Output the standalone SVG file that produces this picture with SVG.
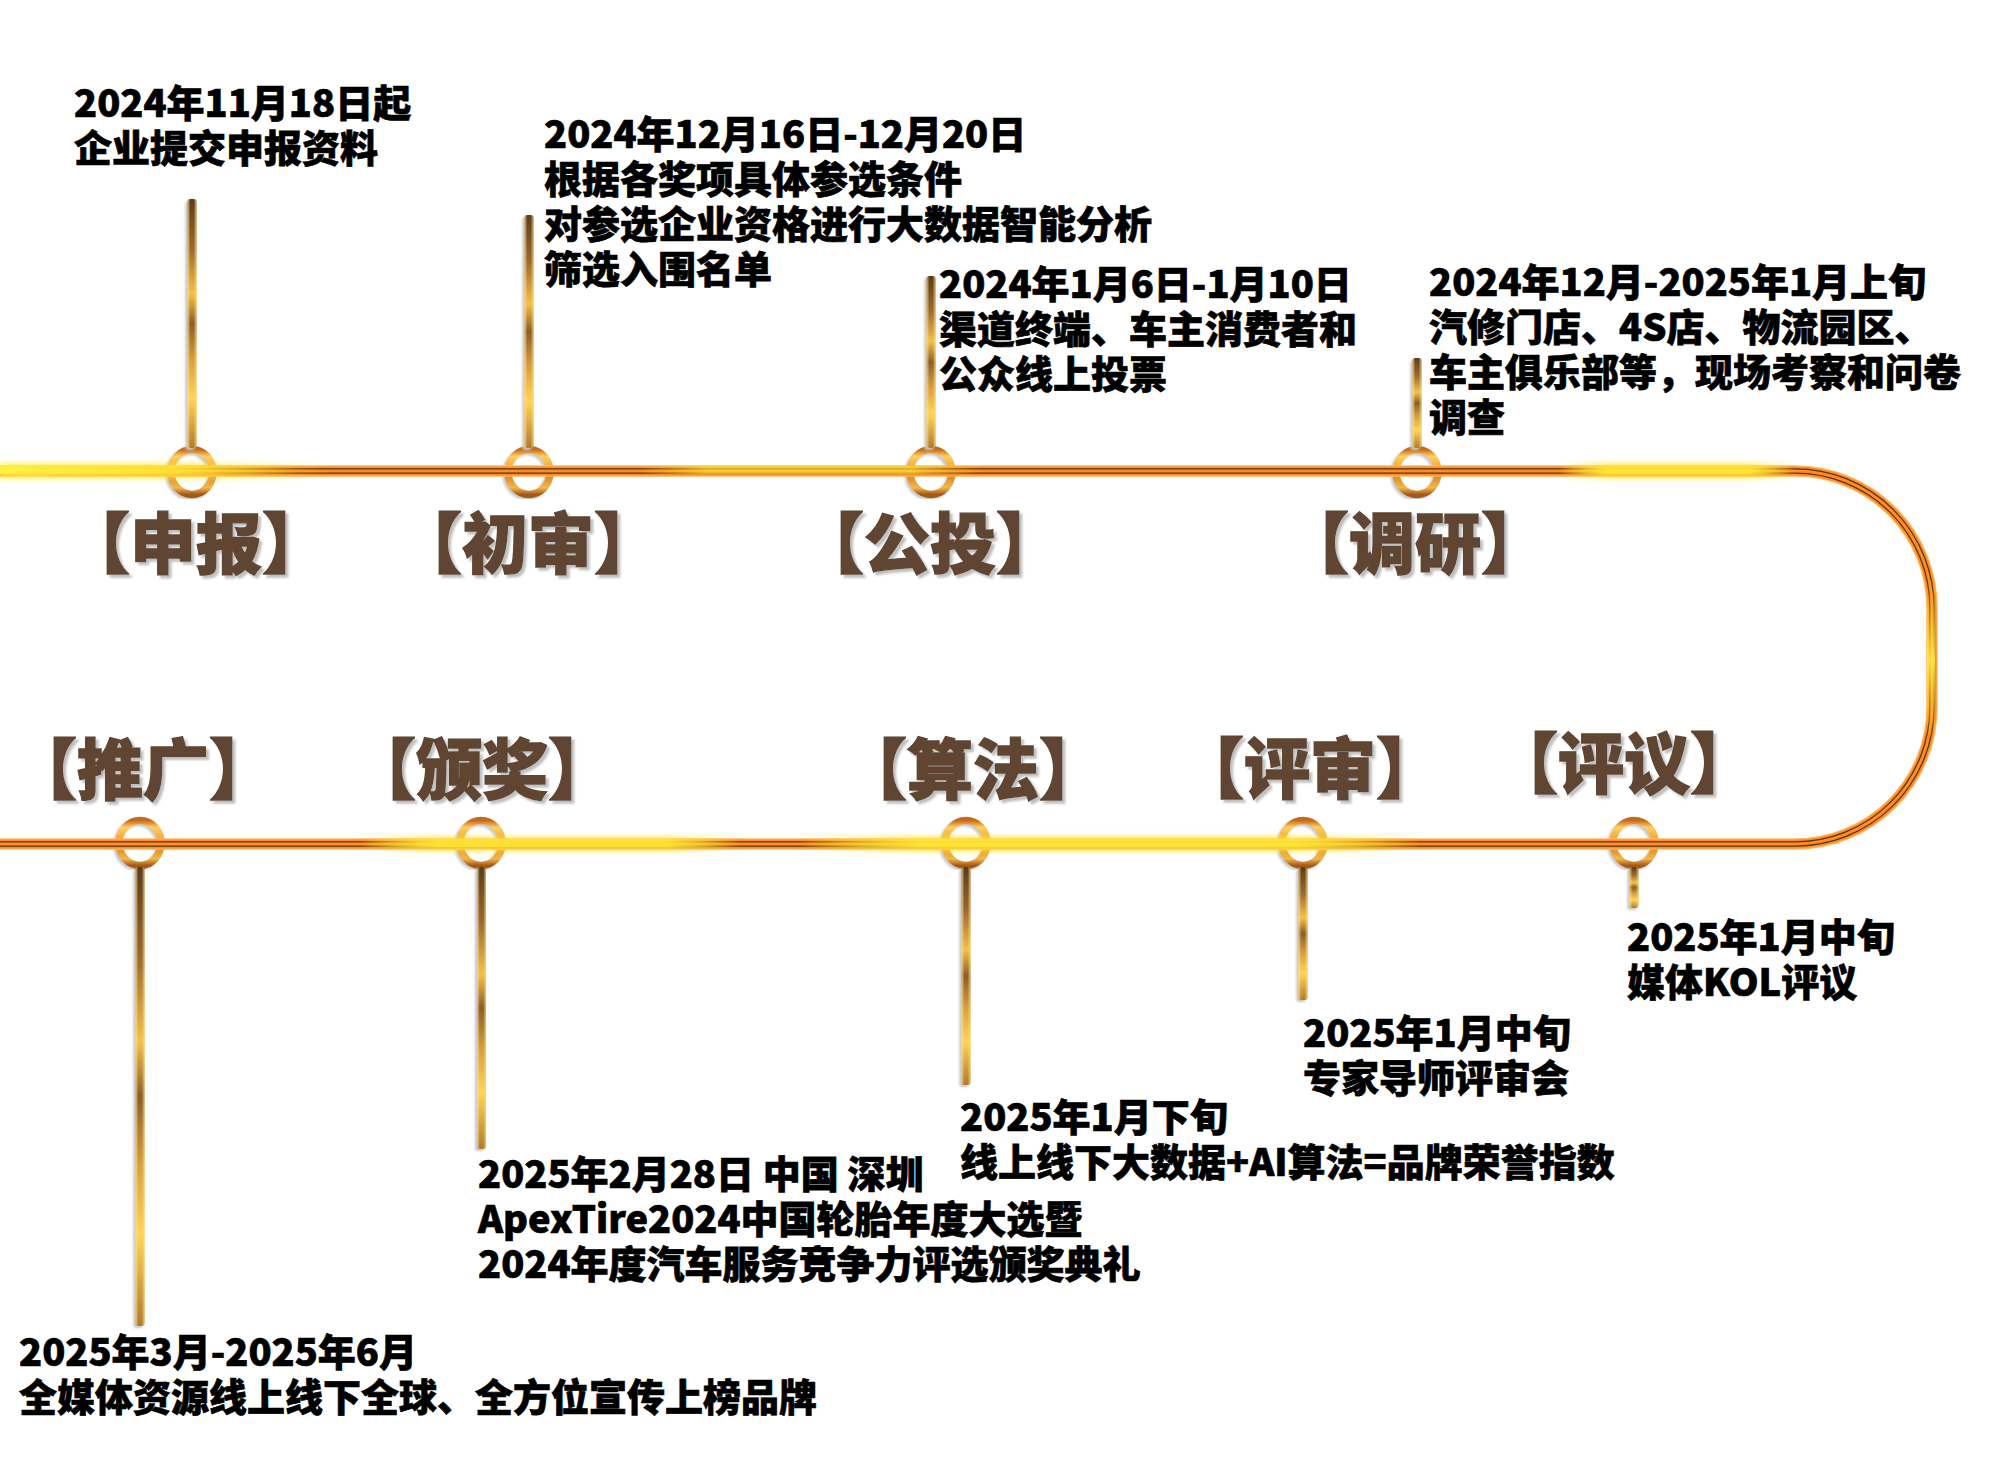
<svg xmlns="http://www.w3.org/2000/svg" width="2000" height="1476" viewBox="0 0 2000 1476">
<defs>
<style>
.lbl{font-family:'Noto Sans CJK SC','Noto Sans',sans-serif;font-size:66px;font-weight:900;fill:#5f4530;stroke:#5f4530;stroke-width:1.4;text-anchor:middle}
.txt{font-family:'Noto Sans CJK SC','Noto Sans',sans-serif;font-size:38px;font-weight:900;fill:#000;stroke:#000;stroke-width:0.7}
.ring{fill:none;stroke:url(#ringG);stroke-width:7.5}
.stem{fill:url(#stemG)}
.stemEdge{fill:url(#stemH)}
</style>
<linearGradient id="ringG" x1="0" y1="0" x2="0" y2="1">
<stop offset="0" stop-color="#c86a1a"/>
<stop offset="0.15" stop-color="#ffd060"/>
<stop offset="0.4" stop-color="#f0a838"/>
<stop offset="0.6" stop-color="#d88a2a"/>
<stop offset="0.85" stop-color="#f4b848"/>
<stop offset="1" stop-color="#a65818"/>
</linearGradient>
<linearGradient id="stemG" x1="0" y1="0" x2="0" y2="1">
<stop offset="0" stop-color="#5a3c1e"/>
<stop offset="0.2" stop-color="#9a6a30"/>
<stop offset="0.38" stop-color="#f5c04a"/>
<stop offset="0.5" stop-color="#8a5e2a"/>
<stop offset="0.65" stop-color="#d8a040"/>
<stop offset="0.8" stop-color="#ffd458"/>
<stop offset="1" stop-color="#b07a30"/>
</linearGradient>
<linearGradient id="stemH" x1="0" y1="0" x2="1" y2="0">
<stop offset="0" stop-color="#ffe08a" stop-opacity=".85"/>
<stop offset="0.3" stop-color="#ffe08a" stop-opacity="0"/>
<stop offset="0.7" stop-color="#ffe08a" stop-opacity="0"/>
<stop offset="1" stop-color="#ffd070" stop-opacity=".8"/>
</linearGradient>
<linearGradient id="hlC" x1="0" y1="0" x2="1" y2="0">
<stop offset="0" stop-color="#ffe030" stop-opacity="0"/>
<stop offset="0.2" stop-color="#ffe535" stop-opacity=".9"/>
<stop offset="0.8" stop-color="#ffe535" stop-opacity=".9"/>
<stop offset="1" stop-color="#ffe030" stop-opacity="0"/>
</linearGradient>
<linearGradient id="hlL" x1="0" y1="0" x2="1" y2="0">
<stop offset="0" stop-color="#fff040" stop-opacity="1"/>
<stop offset="0.55" stop-color="#ffe535" stop-opacity="0.85"/>
<stop offset="1" stop-color="#ffe030" stop-opacity="0"/>
</linearGradient>
<linearGradient id="hlV" x1="0" y1="0" x2="0" y2="1">
<stop offset="0" stop-color="#ffe030" stop-opacity="0"/>
<stop offset="0.5" stop-color="#fff04a" stop-opacity="1"/>
<stop offset="1" stop-color="#ffe030" stop-opacity="0"/>
</linearGradient>
<filter id="glow" x="-5%" y="-100%" width="110%" height="300%"><feGaussianBlur stdDeviation="2.5"/></filter>
<filter id="sh" x="-5%" y="-5%" width="115%" height="120%"><feDropShadow dx="3" dy="3" stdDeviation="1" flood-color="#bfbfbf"/></filter>
<filter id="sh2" x="-50%" y="-10%" width="200%" height="120%"><feDropShadow dx="-2" dy="2" stdDeviation="1" flood-color="#c8c8c8"/></filter>
</defs>
<rect width="2000" height="1476" fill="#fff"/>

<g id="node-shenbao">
<ellipse class="ring" cx="192" cy="472" rx="21" ry="22.5" filter="url(#sh2)"/>
<text class="lbl" x="196" y="568" filter="url(#sh)">【申报】</text>
<text class="txt"><tspan x="74" y="117">2024年11月18日起</tspan><tspan x="74" y="162">企业提交申报资料</tspan></text>
</g>
<g id="node-chushen">
<ellipse class="ring" cx="529" cy="472" rx="21" ry="22.5" filter="url(#sh2)"/>
<text class="lbl" x="528" y="568" filter="url(#sh)">【初审】</text>
<text class="txt"><tspan x="544" y="148">2024年12月16日-12月20日</tspan><tspan x="544" y="193">根据各奖项具体参选条件</tspan><tspan x="544" y="238">对参选企业资格进行大数据智能分析</tspan><tspan x="544" y="283">筛选入围名单</tspan></text>
</g>
<g id="node-gongtou">
<ellipse class="ring" cx="931" cy="472" rx="21" ry="22.5" filter="url(#sh2)"/>
<text class="lbl" x="930" y="568" filter="url(#sh)">【公投】</text>
<text class="txt"><tspan x="939" y="298">2024年1月6日-1月10日</tspan><tspan x="939" y="343">渠道终端、车主消费者和</tspan><tspan x="939" y="388">公众线上投票</tspan></text>
</g>
<g id="node-diaoyan">
<ellipse class="ring" cx="1417" cy="472" rx="21" ry="22.5" filter="url(#sh2)"/>
<text class="lbl" x="1415" y="568" filter="url(#sh)">【调研】</text>
<text class="txt"><tspan x="1429" y="296">2024年12月-2025年1月上旬</tspan><tspan x="1429" y="341">汽修门店、4S店、物流园区、</tspan><tspan x="1429" y="386">车主俱乐部等，现场考察和问卷</tspan><tspan x="1429" y="431">调查</tspan></text>
</g>
<g id="node-tuiguang">
<ellipse class="ring" cx="140" cy="843" rx="21" ry="22.5" filter="url(#sh2)"/>
<text class="lbl" x="143" y="794" filter="url(#sh)">【推广】</text>
<text class="txt"><tspan x="19" y="1366">2025年3月-2025年6月</tspan><tspan x="19" y="1411">全媒体资源线上线下全球、全方位宣传上榜品牌</tspan></text>
</g>
<g id="node-banjiang">
<ellipse class="ring" cx="481" cy="843" rx="21" ry="22.5" filter="url(#sh2)"/>
<text class="lbl" x="482" y="794" filter="url(#sh)">【颁奖】</text>
<text class="txt"><tspan x="478" y="1188">2025年2月28日 中国 深圳</tspan><tspan x="478" y="1233">ApexTire2024中国轮胎年度大选暨</tspan><tspan x="478" y="1278">2024年度汽车服务竞争力评选颁奖典礼</tspan></text>
</g>
<g id="node-suanfa">
<ellipse class="ring" cx="966" cy="843" rx="21" ry="22.5" filter="url(#sh2)"/>
<text class="lbl" x="973" y="794" filter="url(#sh)">【算法】</text>
<text class="txt"><tspan x="960" y="1131">2025年1月下旬</tspan><tspan x="960" y="1176">线上线下大数据+AI算法=品牌荣誉指数</tspan></text>
</g>
<g id="node-pingshen">
<ellipse class="ring" cx="1303" cy="843" rx="21" ry="22.5" filter="url(#sh2)"/>
<text class="lbl" x="1310" y="793" filter="url(#sh)">【评审】</text>
<text class="txt"><tspan x="1303" y="1047">2025年1月中旬</tspan><tspan x="1303" y="1092">专家导师评审会</tspan></text>
</g>
<g id="node-pingyi">
<ellipse class="ring" cx="1634" cy="843" rx="21" ry="22.5" filter="url(#sh2)"/>
<text class="lbl" x="1624" y="788" filter="url(#sh)">【评议】</text>
<text class="txt"><tspan x="1627" y="951">2025年1月中旬</tspan><tspan x="1627" y="996">媒体KOL评议</tspan></text>
</g>

<g id="connectors">
<g id="timeline" fill="none">
<path d="M0,471 H1795 A137,137 0 0 1 1932,608 V707 A137,137 0 0 1 1795,844 H0" stroke="#ffb860" stroke-width="11.5"/>
<path d="M0,471 H1795 A137,137 0 0 1 1932,608 V707 A137,137 0 0 1 1795,844 H0" stroke="#ff8c24" stroke-width="9"/>
<path d="M0,471 H1795 A137,137 0 0 1 1932,608 V707 A137,137 0 0 1 1795,844 H0" stroke="#5a3418" stroke-width="5.5"/>
<path d="M0,471 H1795 A137,137 0 0 1 1932,608 V707 A137,137 0 0 1 1795,844 H0" stroke="#ff8c24" stroke-width="3"/>
</g>
<g id="highlights">
<rect x="0" y="463" width="330" height="16" fill="url(#hlL)" filter="url(#glow)" opacity=".8"/>
<rect x="0" y="466" width="300" height="8" fill="url(#hlL)"/>
<rect x="640" y="466" width="340" height="8" fill="url(#hlC)" opacity=".75"/>
<rect x="1560" y="463" width="235" height="16" fill="url(#hlC)" filter="url(#glow)" opacity=".8"/>
<rect x="1560" y="466" width="235" height="8" fill="url(#hlC)"/>
<rect x="1927" y="580" width="8" height="160" fill="url(#hlV)" opacity=".9"/>
<rect x="360" y="836" width="380" height="16" fill="url(#hlC)" filter="url(#glow)" opacity=".7"/>
<rect x="360" y="839" width="380" height="8" fill="url(#hlC)"/>
<rect x="800" y="836" width="620" height="16" fill="url(#hlC)" filter="url(#glow)" opacity=".8"/>
<rect x="800" y="839" width="620" height="8" fill="url(#hlC)"/>
</g>
<g id="stems" filter="url(#sh2)">
<rect class="stem" x="187.5" y="199" width="9" height="249" rx="3"/>
<rect class="stemEdge" x="187.5" y="199" width="9" height="249" rx="3"/>
<rect class="stem" x="524.5" y="215" width="9" height="233" rx="3"/>
<rect class="stemEdge" x="524.5" y="215" width="9" height="233" rx="3"/>
<rect class="stem" x="926.5" y="276" width="9" height="172" rx="3"/>
<rect class="stemEdge" x="926.5" y="276" width="9" height="172" rx="3"/>
<rect class="stem" x="1412.5" y="358" width="9" height="90" rx="3"/>
<rect class="stemEdge" x="1412.5" y="358" width="9" height="90" rx="3"/>
<rect class="stem" x="135.5" y="867" width="9" height="459" rx="3"/>
<rect class="stemEdge" x="135.5" y="867" width="9" height="459" rx="3"/>
<rect class="stem" x="477" y="867" width="9" height="282" rx="3"/>
<rect class="stemEdge" x="477" y="867" width="9" height="282" rx="3"/>
<rect class="stem" x="961.5" y="867" width="9" height="218" rx="3"/>
<rect class="stemEdge" x="961.5" y="867" width="9" height="218" rx="3"/>
<rect class="stem" x="1298.5" y="867" width="9" height="133" rx="3"/>
<rect class="stemEdge" x="1298.5" y="867" width="9" height="133" rx="3"/>
<rect class="stem" x="1629.5" y="867" width="9" height="41" rx="3"/>
<rect class="stemEdge" x="1629.5" y="867" width="9" height="41" rx="3"/>
</g>
</g>
</svg>
